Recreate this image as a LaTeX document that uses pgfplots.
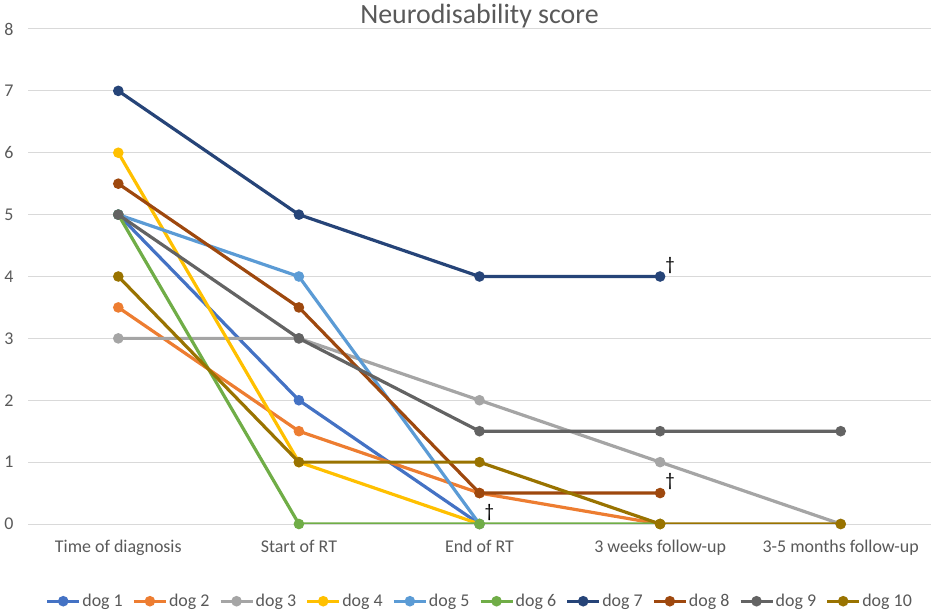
\documentclass[border=0pt]{standalone}
\usepackage{pgfplots}
\pgfplotsset{compat=1.18}
\usepackage{fontspec}
\setmainfont{Carlito}
\definecolor{c1}{HTML}{4472C4}
\definecolor{c2}{HTML}{ED7D31}
\definecolor{c3}{HTML}{A5A5A5}
\definecolor{c4}{HTML}{FFC000}
\definecolor{c5}{HTML}{5B9BD5}
\definecolor{c6}{HTML}{70AD47}
\definecolor{c7}{HTML}{264478}
\definecolor{c8}{HTML}{9E480E}
\definecolor{c9}{HTML}{636363}
\definecolor{c10}{HTML}{997300}
\definecolor{txt}{HTML}{595959}
\definecolor{grd}{HTML}{D9D9D9}
\begin{document}
\begin{tikzpicture}
\path[use as bounding box] (0,0) rectangle (935bp,614bp);
\begin{axis}[
  at={(28bp,90bp)}, anchor=south west,
  scale only axis, width=903bp, height=495bp,
  xmin=-0.5, xmax=4.5, ymin=0, ymax=8,
  xtick={0,1,2,3,4},
  xticklabels={Time of diagnosis,Start of RT,End of RT,3 weeks follow-up,3-5 months follow-up},
  ytick={0,1,...,8},
  ymajorgrids, grid style={grd, line width=1bp},
  axis line style={draw=none}, tick style={draw=none},
  /pgf/number format/assume math mode=true,
  ticklabel style={font=\fontsize{18}{21}\selectfont, text=txt},
  yticklabel style={xshift=-11bp},
  xticklabel style={yshift=-13bp},
  title={Neurodisability score},
  title style={font=\fontsize{28}{33}\selectfont, text=txt, at={(0.5,1)}, anchor=base, yshift=0bp},
  clip mode=individual,
  every axis plot/.append style={line width=3.2bp, mark=*, mark size=3.6bp, mark options={solid}},
  legend style={at={(0.5,-0.156)}, anchor=center, draw=none, legend columns=10,
    font=\fontsize{18}{21}\selectfont, text=txt,
    /tikz/every even column/.append style={column sep=8bp},
    nodes={inner sep=1.5bp}},
  legend image code/.code={\draw[mark repeat=2,mark phase=2,#1] plot coordinates {(0bp,0bp) (16bp,0bp) (32bp,0bp)};},
]
\addplot[c1] coordinates {(0,5) (1,2) (2,0)};
\addplot[c2] coordinates {(0,3.5) (1,1.5) (2,0.5) (3,0)};
\addplot[c3] coordinates {(0,3) (1,3) (2,2) (3,1) (4,0)};
\addplot[c4] coordinates {(0,6) (1,1) (2,0)};
\addplot[c5] coordinates {(0,5) (1,4) (2,0)};
\addplot[c6] coordinates {(0,5) (1,0) (2,0) (3,0)};
\addplot[c7] coordinates {(0,7) (1,5) (2,4) (3,4)};
\addplot[c8] coordinates {(0,5.5) (1,3.5) (2,0.5) (3,0.5)};
\addplot[c9] coordinates {(0,5) (1,3) (2,1.5) (3,1.5) (4,1.5)};
\addplot[c10] coordinates {(0,4) (1,1) (2,1) (3,0) (4,0)};
\legend{dog 1,dog 2,dog 3,dog 4,dog 5,dog 6,dog 7,dog 8,dog 9,dog 10}
\node[anchor=south west, inner sep=0pt, font=\fontsize{19}{22}\selectfont] at (axis cs:2,0) [xshift=5bp, yshift=3bp] {†};
\node[anchor=south west, inner sep=0pt, font=\fontsize{19}{22}\selectfont] at (axis cs:3,4) [xshift=5bp, yshift=3bp] {†};
\node[anchor=south west, inner sep=0pt, font=\fontsize{19}{22}\selectfont] at (axis cs:3,0.5) [xshift=5bp, yshift=3bp] {†};
\end{axis}
\end{tikzpicture}
\end{document}
